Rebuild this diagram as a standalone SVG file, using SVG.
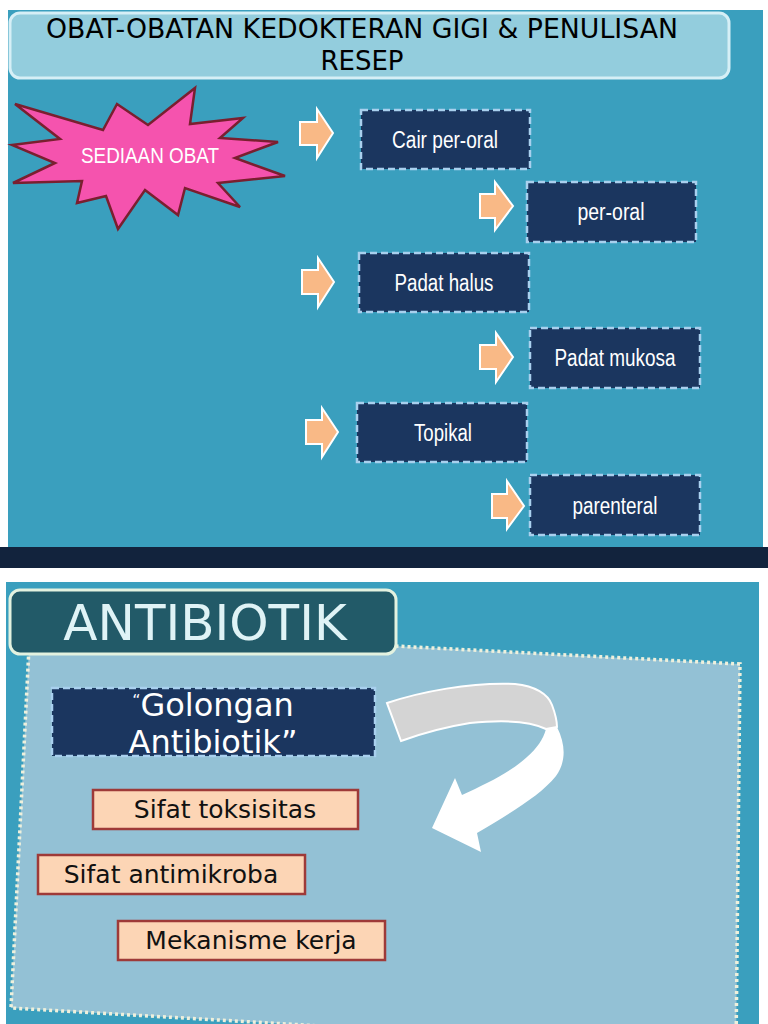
<svg xmlns="http://www.w3.org/2000/svg" width="768" height="1024" viewBox="0 0 768 1024">
<style>
.dbox{fill:#1b365f;stroke:#a9d0ee;stroke-width:2.5;stroke-dasharray:7 4}
.dtxt{font-family:"Liberation Sans Narrow","Liberation Sans",Arial,sans-serif;font-size:23px;fill:#ffffff;text-anchor:middle}
.barrow{fill:#f9b986;stroke:#ffffff;stroke-width:2}
.pbox{fill:#fcd5b5;stroke:#9e3a38;stroke-width:2.5}
.ptxt{font-family:"DejaVu Sans",Verdana,sans-serif;font-size:25px;fill:#111111;text-anchor:middle}
</style>
<rect width="768" height="1024" fill="#ffffff"/>
<!-- top slide -->
<rect x="8" y="10" width="755" height="537" fill="#3a9fbe"/>
<rect x="0" y="547" width="768" height="21" fill="#12233d"/>
<g id="title">
<rect x="10" y="13" width="719" height="65" rx="10" fill="#93cddd" stroke="#d6eff6" stroke-width="3"/>
<text x="362" y="38" font-family="DejaVu Sans,sans-serif" font-size="26" fill="#000" text-anchor="middle" textLength="632" lengthAdjust="spacingAndGlyphs">OBAT-OBATAN KEDOKTERAN GIGI &amp; PENULISAN</text>
<text x="362" y="70" font-family="DejaVu Sans,sans-serif" font-size="26" fill="#000" text-anchor="middle">RESEP</text>
</g>
<g id="sediaan">
<polygon points="12,145 60,139 15,104 103,130 117,104 148,125 195,88 190,124 243,118 220,138 278,142 235,158 285,176 218,183 240,207 185,188 178,215 145,190 118,229 106,196 77,203 82,181 13,183 55,163" fill="#f553ae" stroke="#7a1f2f" stroke-width="2.5" stroke-linejoin="miter"/>
<text x="150" y="163" font-family="Liberation Sans Narrow,Liberation Sans,sans-serif" font-size="22" fill="#ffffff" text-anchor="middle" textLength="138" lengthAdjust="spacingAndGlyphs">SEDIAAN OBAT</text>
</g>
<g id="connectors">
<path class="barrow" d="M300,122 H317 V109 L333,133 L317,158 V145 H300 Z"/>
<path class="barrow" d="M480,194 H495 V182 L513,206 L495,230 V218 H480 Z"/>
<path class="barrow" d="M302,270 H318 V258 L334,282 L318,307 V294 H302 Z"/>
<path class="barrow" d="M480,345 H496 V333 L513,357 L496,382 V369 H480 Z"/>
<path class="barrow" d="M306,420 H322 V408 L338,432 L322,457 V444 H306 Z"/>
<path class="barrow" d="M492,494 H507 V481 L524,506 L507,529 V518 H492 Z"/>
</g>
<g id="cair"><rect class="dbox" x="361" y="110" width="169" height="59"/><text class="dtxt" x="445" y="148" textLength="106" lengthAdjust="spacingAndGlyphs">Cair per-oral</text></g>
<g id="peroral"><rect class="dbox" x="527" y="182" width="169" height="60"/><text class="dtxt" x="611" y="220" textLength="67" lengthAdjust="spacingAndGlyphs">per-oral</text></g>
<g id="padathalus"><rect class="dbox" x="359" y="253" width="170" height="59"/><text class="dtxt" x="444" y="291" textLength="99" lengthAdjust="spacingAndGlyphs">Padat halus</text></g>
<g id="padatmukosa"><rect class="dbox" x="530" y="328" width="170" height="60"/><text class="dtxt" x="615" y="366" textLength="121" lengthAdjust="spacingAndGlyphs">Padat mukosa</text></g>
<g id="topikal"><rect class="dbox" x="357" y="403" width="170" height="59"/><text class="dtxt" x="443" y="441" textLength="58" lengthAdjust="spacingAndGlyphs">Topikal</text></g>
<g id="parenteral"><rect class="dbox" x="530" y="475" width="170" height="60"/><text class="dtxt" x="615" y="514" textLength="85" lengthAdjust="spacingAndGlyphs">parenteral</text></g>
<!-- bottom slide -->
<rect x="6" y="582" width="753" height="442" fill="#3a9fbe"/>
<g id="panel">
<polygon points="30,627 740,664 736,1050 11,1008" fill="#93c1d5" stroke="#eef0dc" stroke-width="3.5" stroke-dasharray="3 3"/>
</g>
<g id="antibiotik">
<rect x="10" y="590" width="386" height="64" rx="10" fill="#225a68" stroke="#e3f2e0" stroke-width="3"/>
<text x="205" y="640" font-family="DejaVu Sans,sans-serif" font-size="50" fill="#dff3f6" text-anchor="middle">ANTIBIOTIK</text>
</g>
<g id="golongan">
<rect class="dbox" x="52" y="688" width="323" height="68"/>
<text x="213" y="716" font-family="DejaVu Sans,sans-serif" font-size="32" fill="#ffffff" text-anchor="middle"><tspan font-size="16" dy="-10">“</tspan><tspan dy="10">Golongan</tspan></text>
<text x="213" y="753" font-family="DejaVu Sans,sans-serif" font-size="32" fill="#ffffff" text-anchor="middle">Antibiotik”</text>
</g>
<g id="curved-arrow">
<path d="M387,703 C420,692 470,682 515,684 C535,686 548,694 552,705 C555,713 557,720 557,727 L546,729 C530,721 500,720 470,723 C445,727 420,734 401,741 Z" fill="#d4d4d4" stroke="#ffffff" stroke-width="2"/>
<path d="M546,729 L557,727 C566,745 566,762 556,776 C540,796 510,813 477,833 L481,852 L432,828 L455,778 L462,795 C488,783 512,771 527,757 C537,748 543,740 546,729 Z" fill="#ffffff"/>
</g>
<g id="toksisitas"><rect class="pbox" x="93" y="790" width="265" height="39"/><text class="ptxt" x="225" y="818">Sifat toksisitas</text></g>
<g id="antimikroba"><rect class="pbox" x="38" y="855" width="267" height="39"/><text class="ptxt" x="171" y="883">Sifat antimikroba</text></g>
<g id="mekanisme"><rect class="pbox" x="118" y="921" width="267" height="39"/><text class="ptxt" x="251" y="949">Mekanisme kerja</text></g>
</svg>
